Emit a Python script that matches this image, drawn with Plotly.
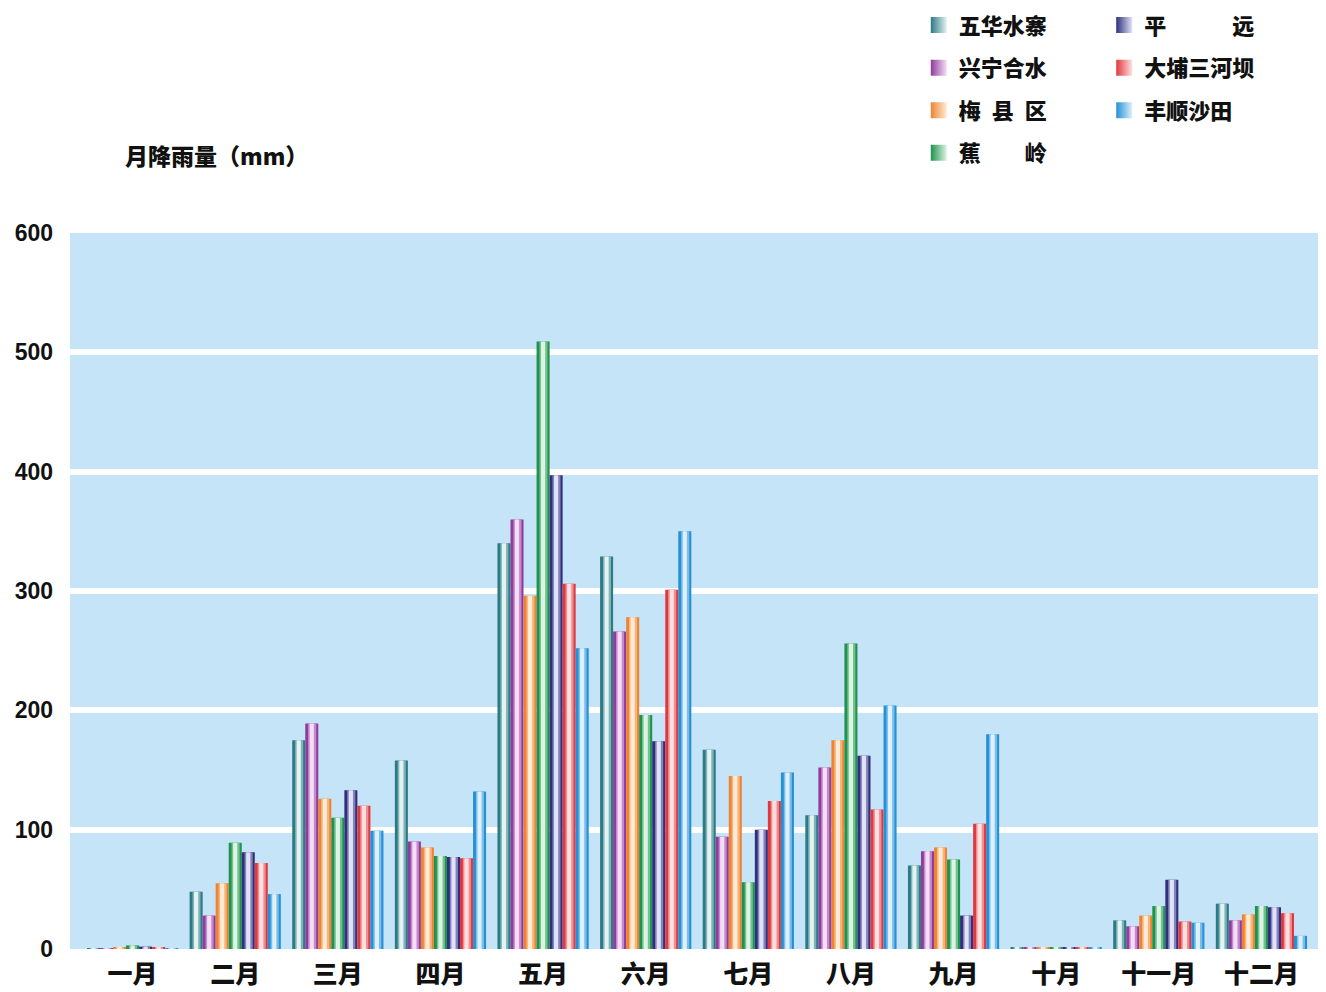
import plotly.graph_objects as go

months = ["一月", "二月", "三月", "四月", "五月", "六月", "七月", "八月", "九月", "十月", "十一月", "十二月"]

wuhua    = [0.5, 48, 175, 158, 340, 329, 167, 112, 70, 1, 24, 38]
xingning = [0.5, 28, 189, 90, 360, 266, 94, 152, 82, 1, 19, 24]
meixian  = [1, 55, 126, 85, 296, 278, 145, 175, 85, 1, 28, 29]
jiaoling = [3, 89, 110, 78, 509, 196, 56, 256, 75, 1, 36, 36]
pingyuan = [2, 81, 133, 77, 397, 174, 100, 162, 28, 1, 58, 35]
dabu     = [1.5, 72, 120, 76, 306, 301, 124, 117, 105, 1, 23, 30]
fengshun = [0.5, 46, 99, 132, 252, 350, 148, 204, 180, 1, 22, 11]

series_names = ["五华水寨", "兴宁合水", "梅\u2002县\u2002区", "蕉\u3000\u3000岭",
                "平\u3000\u3000\u3000远", "大埔三河坝", "丰顺沙田"]
series_values = [wuhua, xingning, meixian, jiaoling, pingyuan, dabu, fengshun]
dark_colors = ["#2C7A84", "#8E3D9C", "#EE8433", "#1F9250", "#2F2F7E", "#E0383F", "#2391D6"]
mid_colors  = ["#7FB3B8", "#C38BCB", "#F6B47E", "#74C08F", "#8384B8", "#EE8E92", "#7DBDE8"]
light_colors = ["#E4F2F2", "#F6DDF6", "#FFEBD6", "#DDF4E5", "#E2E2F6", "#FFE0E0", "#DDF0FC"]

legend_of = ["legend", "legend", "legend", "legend", "legend2", "legend2", "legend2"]

bar_w = 0.127
start = -0.4445

fig = go.Figure()
for i, (name, vals) in enumerate(zip(series_names, series_values)):
    off = start + i * bar_w
    fig.add_trace(go.Bar(
        x=months, y=vals, name=name, legendgroup=name, legend=legend_of[i],
        marker=dict(color=dark_colors[i], line=dict(width=0)),
        width=bar_w, offset=off, showlegend=False,
    ))
    fig.add_trace(go.Bar(
        x=months, y=vals, name=name, legendgroup=name, legend=legend_of[i],
        marker=dict(color=mid_colors[i], line=dict(width=0)),
        width=bar_w * 0.62, offset=off + bar_w * 0.22, showlegend=False, hoverinfo="skip",
    ))
    fig.add_trace(go.Bar(
        x=months, y=vals, name=name, legendgroup=name, legend=legend_of[i],
        marker=dict(color=light_colors[i], line=dict(width=0)),
        width=bar_w * 0.32, offset=off + bar_w * 0.34, showlegend=False, hoverinfo="skip",
    ))
    # legend-only entry with a larger swatch
    fig.add_trace(go.Scatter(
        x=[None], y=[None], mode="markers", name=name, legendgroup=name, legend=legend_of[i],
        marker=dict(symbol="square", size=16, color=dark_colors[i],
                    gradient=dict(type="horizontal", color=light_colors[i]),
                    line=dict(width=0)),
        showlegend=True, hoverinfo="skip",
    ))

cjk = "Noto Sans CJK SC"
legend_font = dict(family=cjk, size=22, color="#111111", weight=900)

fig.update_layout(
    width=1318, height=984,
    margin=dict(l=62, r=3, t=225, b=43, autoexpand=False),
    paper_bgcolor="white",
    plot_bgcolor="#C6E4F7",
    barmode="overlay",
    showlegend=True,
    legend=dict(x=0.6774, y=1.3195, xanchor="left", yanchor="top", orientation="v",
                font=legend_font, tracegroupgap=11, bgcolor="rgba(0,0,0,0)",
                itemsizing="trace", itemclick=False, itemdoubleclick=False),
    legend2=dict(x=0.8254, y=1.3195, xanchor="left", yanchor="top", orientation="v",
                 font=legend_font, tracegroupgap=11, bgcolor="rgba(0,0,0,0)",
                 itemsizing="trace", itemclick=False, itemdoubleclick=False),
    xaxis=dict(
        type="category", range=[-0.61, 11.6], showgrid=False, zeroline=False,
        showline=False, ticks="", automargin=False,
        tickfont=dict(family=cjk, size=25, color="#111111", weight=900),
        ticklabelstandoff=8,
    ),
    yaxis=dict(
        range=[0, 600], tickvals=[0, 100, 200, 300, 400, 500, 600],
        showgrid=True, gridcolor="white", gridwidth=6, zeroline=False, showline=False,
        ticks="", automargin=False,
        tickfont=dict(family="Liberation Sans", size=23, color="#111111", weight=900),
        ticklabelstandoff=16,
    ),
    annotations=[dict(
        text="月降雨量（mm）", xref="paper", yref="paper",
        x=(123 - 70) / 1253, y=1 + (233 - 155) / 716, xanchor="left", yanchor="middle",
        showarrow=False, font=dict(family=cjk, size=23, color="#111111", weight=900),
    )],
)

fig.write_html("out.html")
